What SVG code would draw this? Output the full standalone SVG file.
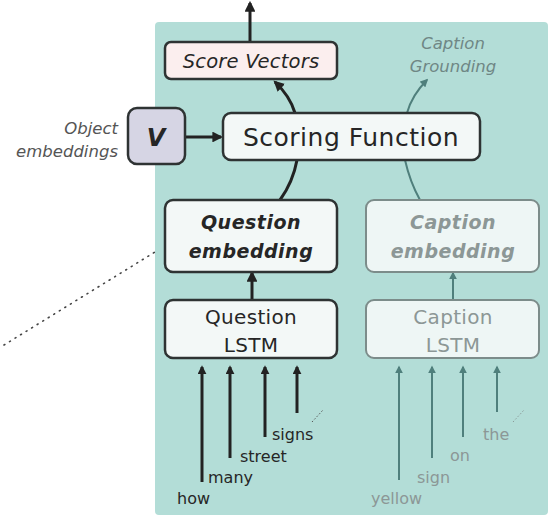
<svg xmlns="http://www.w3.org/2000/svg" width="553" height="520" viewBox="0 0 553 520">
  <style>
    .box { fill: #f3f8f7; stroke: #2e3333; stroke-width: 2.5; }
    .cbox { fill: #eef6f5; stroke: #7c8c8a; stroke-width: 2; }
    .t { font-family: "DejaVu Sans", "Liberation Sans", sans-serif; fill: #262626; }
    .ct { font-family: "DejaVu Sans", "Liberation Sans", sans-serif; fill: #8c9796; }
    .g { font-family: "DejaVu Sans", "Liberation Sans", sans-serif; fill: #6f8785; font-style: italic; }
    .dk { stroke: #222; fill: none; stroke-width: 3; }
    .lt { stroke: #4f7f7c; fill: none; stroke-width: 2; }
  </style>
  <defs>
    <marker id="ah" viewBox="0 0 10 10" refX="8" refY="5" markerWidth="3" markerHeight="3" orient="auto" markerUnits="strokeWidth">
      <path d="M0,0 L10,5 L0,10 z" fill="#222"/>
    </marker>
    <marker id="ahs" viewBox="0 0 10 10" refX="8" refY="5" markerWidth="3.6" markerHeight="3.6" orient="auto" markerUnits="strokeWidth">
      <path d="M0,0 L10,5 L0,10 z" fill="#222"/>
    </marker>
    <marker id="al" viewBox="0 0 10 10" refX="8" refY="5" markerWidth="4" markerHeight="4" orient="auto" markerUnits="strokeWidth">
      <path d="M0,0 L10,5 L0,10 z" fill="#4f7f7c"/>
    </marker>
  </defs>

  <!-- model panel -->
  <rect x="155" y="22" width="393" height="493" rx="4" fill="#b3ddd7"/>

  <!-- dotted leader -->
  <line x1="4" y1="345" x2="155" y2="252" stroke="#444" stroke-width="1.6" stroke-dasharray="1 5.5" stroke-linecap="round"/>

  <g id="connectors">
    <line x1="250" y1="42" x2="250" y2="3" class="dk" stroke-width="2.5" marker-end="url(#ahs)"/>
    <line x1="185" y1="137" x2="221" y2="137" class="dk" stroke-width="2" marker-end="url(#ahs)"/>
    <path d="M295,113 Q290,96 275,82" class="dk" stroke-width="2.5" marker-end="url(#ahs)"/>
    <path d="M407,113 Q412,95 427,80" class="lt" marker-end="url(#al)"/>
    <path d="M297,160 Q293,182 280,200" class="dk" stroke-width="2.5"/>
    <path d="M405,160 Q410,182 420,200" class="lt"/>
    <line x1="252" y1="300" x2="252" y2="273" class="dk" stroke-width="2.5" marker-end="url(#ahs)"/>
    <line x1="453" y1="300" x2="453" y2="273" class="lt" marker-end="url(#al)"/>
    <!-- question words -->
    <line x1="202" y1="482" x2="202" y2="367" class="dk" marker-end="url(#ah)"/>
    <line x1="230" y1="458" x2="230" y2="367" class="dk" marker-end="url(#ah)"/>
    <line x1="265" y1="437" x2="265" y2="367" class="dk" marker-end="url(#ah)"/>
    <line x1="297" y1="413" x2="297" y2="367" class="dk" marker-end="url(#ah)"/>
    <line x1="312" y1="422" x2="323" y2="410" stroke="#555" stroke-width="1" stroke-dasharray="1.5 2"/>
    <!-- caption words -->
    <line x1="399" y1="480" x2="399" y2="367" class="lt" marker-end="url(#al)"/>
    <line x1="432" y1="458" x2="432" y2="367" class="lt" marker-end="url(#al)"/>
    <line x1="463" y1="437" x2="463" y2="367" class="lt" marker-end="url(#al)"/>
    <line x1="497" y1="412" x2="497" y2="367" class="lt" marker-end="url(#al)"/>
    <line x1="513" y1="422" x2="524" y2="410" stroke="#8a9a98" stroke-width="1" stroke-dasharray="1.5 2"/>
  </g>

  <g id="score-vectors">
    <rect x="165" y="42" width="172" height="37" rx="6" class="box" style="fill:#fbeeee"/>
    <text x="251" y="68" class="t" font-size="19.5" font-style="italic" letter-spacing="0.2" text-anchor="middle">Score Vectors</text>
  </g>

  <g id="caption-grounding">
    <text x="453" y="49" class="g" font-size="16.5" text-anchor="middle">Caption</text>
    <text x="453" y="72" class="g" font-size="16.5" text-anchor="middle">Grounding</text>
  </g>

  <g id="object-embeddings">
    <text x="118" y="134" class="t" font-size="16.5" font-style="italic" style="fill:#555" text-anchor="end">Object</text>
    <text x="118" y="157" class="t" font-size="16.5" font-style="italic" style="fill:#555" text-anchor="end">embeddings</text>
  </g>

  <g id="v">
    <rect x="128" y="108" width="57" height="56" rx="9" class="box" style="fill:#d6d5e4"/>
    <text x="156" y="146" class="t" font-size="24" font-weight="bold" font-style="italic" text-anchor="middle">V</text>
  </g>

  <g id="scoring-function">
    <rect x="223" y="113" width="257" height="47" rx="8" class="box"/>
    <text x="351" y="146" class="t" font-size="25" letter-spacing="0.5" text-anchor="middle">Scoring Function</text>
  </g>

  <g id="question-embedding">
    <rect x="165" y="200" width="172" height="72" rx="8" class="box"/>
    <text x="251" y="229" class="t" font-size="19" font-weight="bold" font-style="italic" letter-spacing="0.5" text-anchor="middle">Question</text>
    <text x="251" y="258" class="t" font-size="19" font-weight="bold" font-style="italic" letter-spacing="0.5" text-anchor="middle">embedding</text>
  </g>

  <g id="caption-embedding">
    <rect x="366" y="200" width="173" height="72" rx="8" class="cbox"/>
    <text x="453" y="229" class="ct" font-size="19" font-weight="bold" font-style="italic" letter-spacing="0.5" text-anchor="middle">Caption</text>
    <text x="453" y="258" class="ct" font-size="19" font-weight="bold" font-style="italic" letter-spacing="0.5" text-anchor="middle">embedding</text>
  </g>

  <g id="question-lstm">
    <rect x="165" y="300" width="172" height="58" rx="8" class="box"/>
    <text x="251" y="324" class="t" font-size="20" letter-spacing="0.3" text-anchor="middle">Question</text>
    <text x="251" y="352" class="t" font-size="20" letter-spacing="0.3" text-anchor="middle">LSTM</text>
  </g>

  <g id="caption-lstm">
    <rect x="366" y="300" width="173" height="58" rx="8" class="cbox"/>
    <text x="453" y="324" class="ct" font-size="20" letter-spacing="0.3" text-anchor="middle">Caption</text>
    <text x="453" y="352" class="ct" font-size="20" letter-spacing="0.3" text-anchor="middle">LSTM</text>
  </g>

  <g id="question-words">
    <text x="177" y="504" class="t" font-size="16">how</text>
    <text x="208" y="483" class="t" font-size="16">many</text>
    <text x="240" y="462" class="t" font-size="16">street</text>
    <text x="272" y="440" class="t" font-size="16">signs</text>
  </g>

  <g id="caption-words">
    <text x="371" y="504" class="ct" font-size="16">yellow</text>
    <text x="417" y="483" class="ct" font-size="16">sign</text>
    <text x="450" y="461" class="ct" font-size="16">on</text>
    <text x="483" y="440" class="ct" font-size="16">the</text>
  </g>
</svg>
